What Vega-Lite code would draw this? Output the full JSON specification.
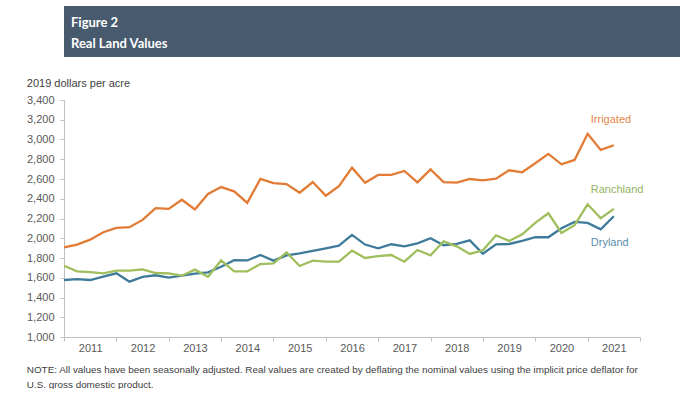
{
  "$schema": "https://vega.github.io/schema/vega-lite/v6.json",
  "padding": {"left": 5, "top": 6, "right": 0, "bottom": 0},
  "background": "white",
  "spacing": 20,
  "config": {"view": {"stroke": null}, "font": "Liberation Sans"},
  "vconcat": [
    {
      "width": 665,
      "height": 51,
      "view": {"fill": "#485B6E", "stroke": null},
      "title": {
        "text": ["Figure 2", "Real Land Values"],
        "anchor": "start",
        "frame": "group",
        "orient": "top",
        "offset": 0,
        "dx": 7,
        "dy": 45,
        "font": "Lato",
        "fontSize": 13,
        "fontWeight": "bold",
        "color": "#FFFFFF",
        "lineHeight": 21
      },
      "data": {"values": []},
      "mark": "text",
      "encoding": {}
    },
    {
      "width": 576,
      "height": 237,
      "title": {"text": ".", "color": "#FFFFFF", "fontSize": 4, "anchor": "start", "frame": "group", "dx": -58.7, "offset": -12},
      "data": {
        "values": [
          {"t": 2011.0, "Irrigated": 1908, "Dryland": 1577, "Ranchland": 1722},
          {"t": 2011.25, "Irrigated": 1935, "Dryland": 1587, "Ranchland": 1665},
          {"t": 2011.5, "Irrigated": 1986, "Dryland": 1577, "Ranchland": 1658},
          {"t": 2011.75, "Irrigated": 2061, "Dryland": 1611, "Ranchland": 1645},
          {"t": 2012.0, "Irrigated": 2105, "Dryland": 1645, "Ranchland": 1672},
          {"t": 2012.25, "Irrigated": 2112, "Dryland": 1560, "Ranchland": 1672},
          {"t": 2012.5, "Irrigated": 2186, "Dryland": 1608, "Ranchland": 1685},
          {"t": 2012.75, "Irrigated": 2305, "Dryland": 1625, "Ranchland": 1648},
          {"t": 2013.0, "Irrigated": 2298, "Dryland": 1601, "Ranchland": 1645},
          {"t": 2013.25, "Irrigated": 2390, "Dryland": 1621, "Ranchland": 1621},
          {"t": 2013.5, "Irrigated": 2292, "Dryland": 1641, "Ranchland": 1682},
          {"t": 2013.75, "Irrigated": 2448, "Dryland": 1655, "Ranchland": 1610},
          {"t": 2014.0, "Irrigated": 2518, "Dryland": 1712, "Ranchland": 1775},
          {"t": 2014.25, "Irrigated": 2475, "Dryland": 1778, "Ranchland": 1665},
          {"t": 2014.5, "Irrigated": 2358, "Dryland": 1775, "Ranchland": 1665},
          {"t": 2014.75, "Irrigated": 2600, "Dryland": 1830, "Ranchland": 1739},
          {"t": 2015.0, "Irrigated": 2559, "Dryland": 1773, "Ranchland": 1746},
          {"t": 2015.25, "Irrigated": 2549, "Dryland": 1827, "Ranchland": 1857},
          {"t": 2015.5, "Irrigated": 2461, "Dryland": 1847, "Ranchland": 1719},
          {"t": 2015.75, "Irrigated": 2569, "Dryland": 1871, "Ranchland": 1773},
          {"t": 2016.0, "Irrigated": 2431, "Dryland": 1898, "Ranchland": 1763},
          {"t": 2016.25, "Irrigated": 2527, "Dryland": 1925, "Ranchland": 1763},
          {"t": 2016.5, "Irrigated": 2715, "Dryland": 2034, "Ranchland": 1874},
          {"t": 2016.75, "Irrigated": 2563, "Dryland": 1936, "Ranchland": 1800},
          {"t": 2017.0, "Irrigated": 2641, "Dryland": 1898, "Ranchland": 1820},
          {"t": 2017.25, "Irrigated": 2641, "Dryland": 1939, "Ranchland": 1830},
          {"t": 2017.5, "Irrigated": 2681, "Dryland": 1918, "Ranchland": 1763},
          {"t": 2017.75, "Irrigated": 2566, "Dryland": 1949, "Ranchland": 1881},
          {"t": 2018.0, "Irrigated": 2698, "Dryland": 2000, "Ranchland": 1827},
          {"t": 2018.25, "Irrigated": 2569, "Dryland": 1929, "Ranchland": 1969},
          {"t": 2018.5, "Irrigated": 2563, "Dryland": 1942, "Ranchland": 1918},
          {"t": 2018.75, "Irrigated": 2600, "Dryland": 1979, "Ranchland": 1841},
          {"t": 2019.0, "Irrigated": 2586, "Dryland": 1843, "Ranchland": 1878},
          {"t": 2019.25, "Irrigated": 2603, "Dryland": 1939, "Ranchland": 2030},
          {"t": 2019.5, "Irrigated": 2688, "Dryland": 1942, "Ranchland": 1973},
          {"t": 2019.75, "Irrigated": 2668, "Dryland": 1973, "Ranchland": 2040},
          {"t": 2020.0, "Irrigated": 2759, "Dryland": 2010, "Ranchland": 2155},
          {"t": 2020.25, "Irrigated": 2854, "Dryland": 2010, "Ranchland": 2253},
          {"t": 2020.5, "Irrigated": 2749, "Dryland": 2101, "Ranchland": 2054},
          {"t": 2020.75, "Irrigated": 2793, "Dryland": 2166, "Ranchland": 2132},
          {"t": 2021.0, "Irrigated": 3058, "Dryland": 2155, "Ranchland": 2344},
          {"t": 2021.25, "Irrigated": 2895, "Dryland": 2091, "Ranchland": 2203},
          {"t": 2021.5, "Irrigated": 2942, "Dryland": 2223, "Ranchland": 2297}
        ]
      },
      "encoding": {
        "x": {
          "field": "t",
          "type": "quantitative",
          "scale": {"domain": [2011, 2022], "nice": false, "zero": false},
          "axis": {
            "values": [2011, 2012, 2013, 2014, 2015, 2016, 2017, 2018, 2019, 2020, 2021, 2022],
            "labelExpr": "datum.value < 2022 ? '' + datum.value : ''",
            "labelOffset": 26.2,
            "labelFontSize": 11,
            "labelColor": "#595959",
            "labelPadding": 1,
            "labelFlush": false,
            "labelOverlap": false,
            "labelBound": false,
            "tickSize": 4,
            "tickColor": "#BFBFBF",
            "domainColor": "#BFBFBF",
            "grid": false,
            "title": ["NOTE: All values have been seasonally adjusted. Real values are created by deflating the nominal values using the implicit price deflator for", "U.S. gross domestic product."],
            "titleAnchor": "start",
            "titleAlign": "left",
            "titleBaseline": "top",
            "titleX": -37.7,
            "titleY": 27,
            "titleFontSize": 9.9,
            "titleFontWeight": "normal",
            "titleColor": "#404040",
            "titleLineHeight": 15
          }
        },
        "y": {
          "field": "value",
          "type": "quantitative",
          "scale": {"domain": [1000, 3400], "nice": false, "zero": false},
          "axis": {
            "values": [1000, 1200, 1400, 1600, 1800, 2000, 2200, 2400, 2600, 2800, 3000, 3200, 3400],
            "labelExpr": "floor(datum.value / 1000) + ',' + substring('' + (1000 + datum.value % 1000), 1)",
            "labelFontSize": 11,
            "labelColor": "#595959",
            "labelPadding": 6,
            "labelOverlap": false,
            "labelFlush": false,
            "tickSize": 4,
            "tickColor": "#BFBFBF",
            "domainColor": "#BFBFBF",
            "grid": false,
            "title": "2019 dollars per acre",
            "titleAngle": 0,
            "titleAlign": "left",
            "titleBaseline": "middle",
            "titleX": -37.7,
            "titleY": -17,
            "titleFontSize": 11,
            "titleFontWeight": "normal",
            "titleColor": "#404040"
          }
        }
      },
      "layer": [
        {
          "transform": [{"fold": ["Irrigated", "Dryland", "Ranchland"], "as": ["series", "value"]}],
          "mark": {"type": "line", "strokeWidth": 2.3},
          "encoding": {
            "color": {
              "field": "series",
              "type": "nominal",
              "scale": {"domain": ["Irrigated", "Dryland", "Ranchland"], "range": ["#E27B34", "#3E7B9B", "#9FBE5C"]},
              "legend": null
            }
          }
        },
        {
          "data": {
            "values": [
              {"series": "Irrigated", "t": 2021.06, "value": 3200},
              {"series": "Ranchland", "t": 2021.06, "value": 2490},
              {"series": "Dryland", "t": 2021.06, "value": 1955}
            ]
          },
          "mark": {"type": "text", "align": "left", "baseline": "middle", "fontSize": 11},
          "encoding": {
            "text": {"field": "series"},
            "color": {
              "field": "series",
              "type": "nominal",
              "scale": {"domain": ["Irrigated", "Dryland", "Ranchland"], "range": ["#E4874A", "#5A8DAE", "#92B260"]},
              "legend": null
            }
          }
        }
      ],
      "resolve": {"scale": {"color": "independent"}}
    }
  ]
}
